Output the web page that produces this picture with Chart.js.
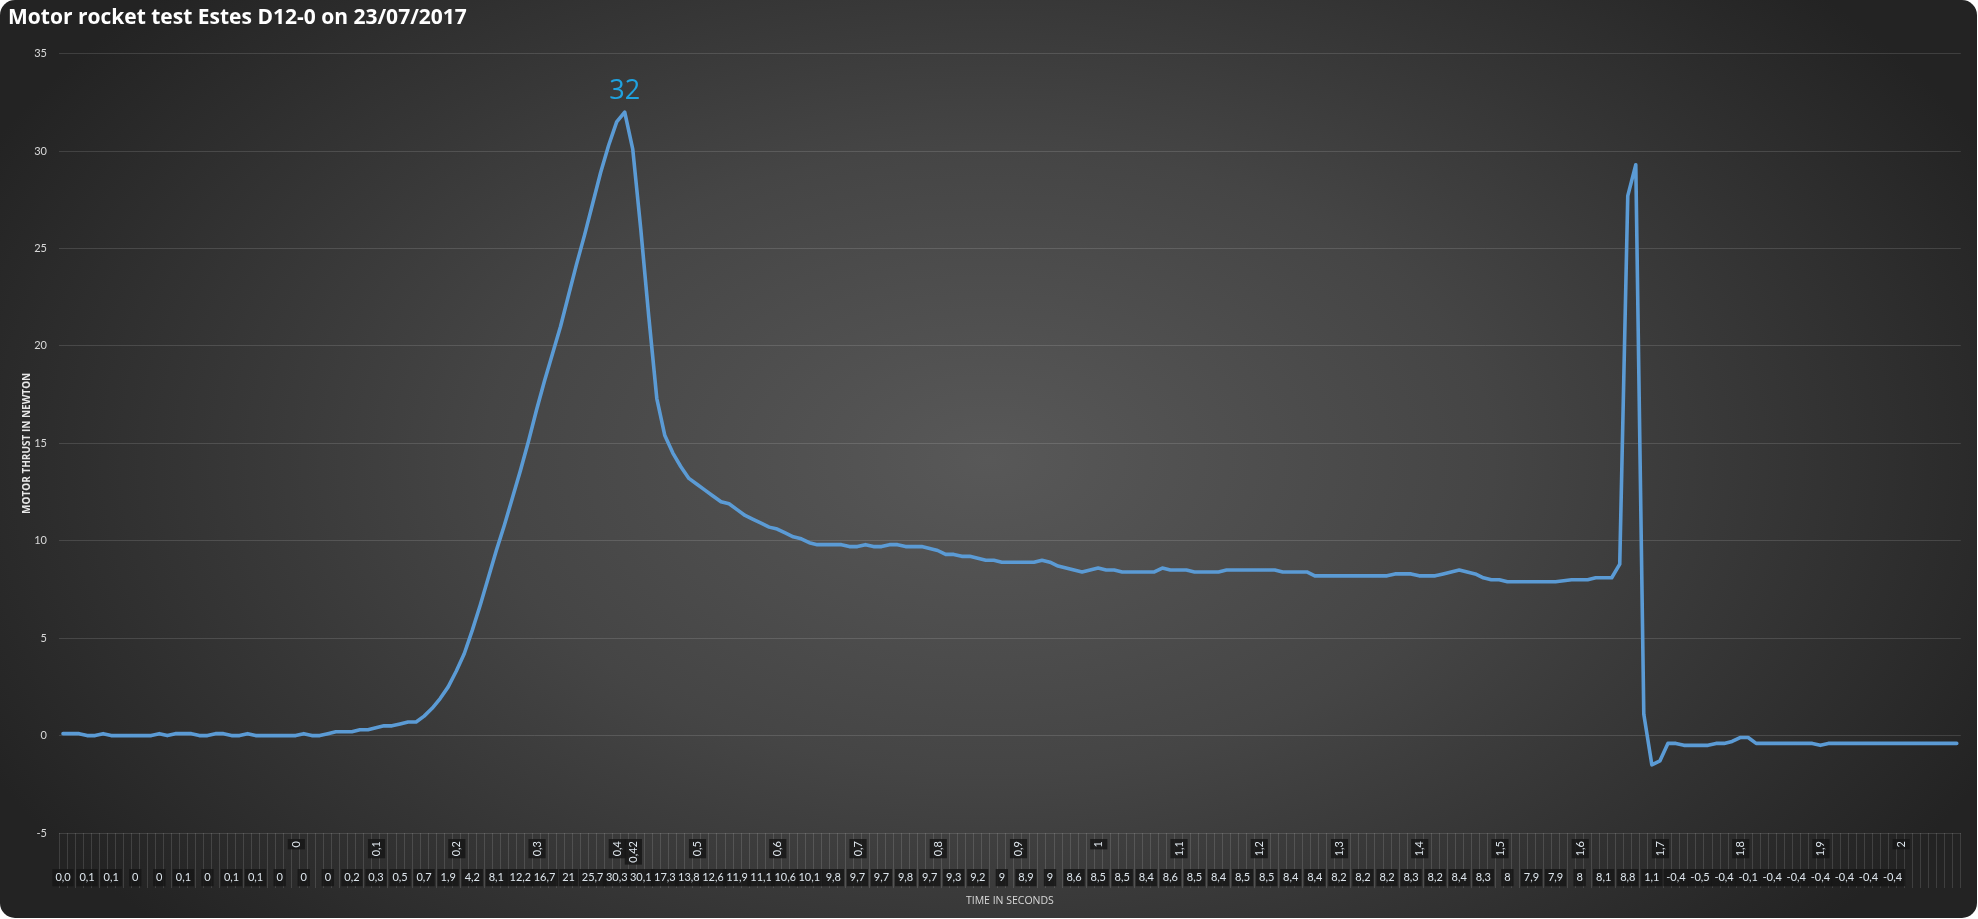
<!DOCTYPE html>
<html>
<head>
<meta charset="utf-8">
<style>
  html, body { margin: 0; padding: 0; background: #ffffff; }
  #wrap { width: 1978px; height: 919px; }
</style>
<script src="https://cdn.jsdelivr.net/npm/chart.js@4.4.1/dist/chart.umd.min.js"></script>
</head>
<body>
<div id="wrap"><canvas id="c" width="1978" height="919"></canvas></div>
<script>
// ---- DATA ----
const chartTitle = 'Motor rocket test Estes D12-0 on 23/07/2017';

// Thrust in newton, one sample every 0.01 s
const thrust = [
  0.1, 0.1, 0.1, 0, 0, 0.1, 0, 0, 0, 0,
  0, 0, 0.1, 0, 0.1, 0.1, 0.1, 0, 0, 0.1,
  0.1, 0, 0, 0.1, 0, 0, 0, 0, 0, 0,
  0.1, 0, 0, 0.1, 0.2, 0.2, 0.2, 0.3, 0.3, 0.4,
  0.5, 0.5, 0.6, 0.7, 0.7, 1.0, 1.4, 1.9, 2.5, 3.3,
  4.2, 5.4, 6.7, 8.1, 9.5, 10.8, 12.2, 13.6, 15.1, 16.7,
  18.2, 19.6, 21, 22.6, 24.2, 25.7, 27.3, 28.9, 30.3, 31.5,
  32, 30.1, 26, 21.5, 17.3, 15.4, 14.5, 13.8, 13.2, 12.9,
  12.6, 12.3, 12.0, 11.9, 11.6, 11.3, 11.1, 10.9, 10.7, 10.6,
  10.4, 10.2, 10.1, 9.9, 9.8, 9.8, 9.8, 9.8, 9.7, 9.7,
  9.8, 9.7, 9.7, 9.8, 9.8, 9.7, 9.7, 9.7, 9.6, 9.5,
  9.3, 9.3, 9.2, 9.2, 9.1, 9.0, 9.0, 8.9, 8.9, 8.9,
  8.9, 8.9, 9.0, 8.9, 8.7, 8.6, 8.5, 8.4, 8.5, 8.6,
  8.5, 8.5, 8.4, 8.4, 8.4, 8.4, 8.4, 8.6, 8.5, 8.5,
  8.5, 8.4, 8.4, 8.4, 8.4, 8.5, 8.5, 8.5, 8.5, 8.5,
  8.5, 8.5, 8.4, 8.4, 8.4, 8.4, 8.2, 8.2, 8.2, 8.2,
  8.2, 8.2, 8.2, 8.2, 8.2, 8.2, 8.3, 8.3, 8.3, 8.2,
  8.2, 8.2, 8.3, 8.4, 8.5, 8.4, 8.3, 8.1, 8.0, 8.0,
  7.9, 7.9, 7.9, 7.9, 7.9, 7.9, 7.9, 7.95, 8.0, 8.0,
  8.0, 8.1, 8.1, 8.1, 8.8, 27.7, 29.3, 1.1, -1.5, -1.3,
  -0.4, -0.4, -0.5, -0.5, -0.5, -0.5, -0.4, -0.4, -0.3, -0.1,
  -0.1, -0.4, -0.4, -0.4, -0.4, -0.4, -0.4, -0.4, -0.4, -0.5,
  -0.4, -0.4, -0.4, -0.4, -0.4, -0.4, -0.4, -0.4, -0.4, -0.4,
  -0.4, -0.4, -0.4, -0.4, -0.4, -0.4, -0.4
];

// Inner category row (thrust text), shown on every third category
const thrustLabels = [
  '0,0','0,1','0,1','0','0','0,1','0','0,1','0,1','0','0','0',
  '0,2','0,3','0,5','0,7','1,9','4,2','8,1','12,2','16,7','21','25,7','30,3',
  '30,1','17,3','13,8','12,6','11,9','11,1','10,6','10,1',
  '9,8','9,7','9,7','9,8','9,7','9,3','9,2','9',
  '8,9','9','8,6','8,5','8,5','8,4','8,6','8,5',
  '8,4','8,5','8,5','8,4','8,4','8,2','8,2','8,2',
  '8,3','8,2','8,4','8,3','8','7,9','7,9','8',
  '8,1','8,8','1,1','-0,4','-0,5','-0,4','-0,1',
  '-0,4','-0,4','-0,4','-0,4','-0,4','-0,4'
];
const labelEvery = 3;

// Outer category row (time in seconds) and the sample row each one sits on
const timeLabels = ['0','0,1','0,2','0,3','0,4','0,42','0,5','0,6','0,7','0,8','0,9','1',
                    '1,1','1,2','1,3','1,4','1,5','1,6','1,7','1,8','1,9','2'];
const timeRows   = [29, 39, 49, 59, 69, 71, 79, 89, 99, 109, 119, 129,
                    139, 149, 159, 169, 179, 189, 199, 209, 219, 229];

const yTicks = { min: -5, max: 35, step: 5 };

// ---- derived tables ----
const categories = thrust.map((v, i) => (i % labelEvery === 0 && thrustLabels[i / labelEvery] !== undefined) ? thrustLabels[i / labelEvery] : '');
const timeColumn = thrust.map(() => '');
timeRows.forEach((r, k) => { timeColumn[r] = timeLabels[k]; });

// ---- plugins ----
const bgPlugin = {
  id: 'bg',
  beforeDraw(chart) {
    const { ctx, width, height } = chart;
    ctx.save();
    ctx.fillStyle = '#ffffff';
    ctx.fillRect(0, 0, width, height);
    ctx.beginPath();
    ctx.roundRect(0, 0, width - 1, height - 1, 15);
    ctx.clip();
    ctx.translate(width / 2, height / 2);
    ctx.scale(1, 0.62);
    const g = ctx.createRadialGradient(0, 0, 0, 0, 0, 1120);
    g.addColorStop(0, '#585858');
    g.addColorStop(0.45, '#454545');
    g.addColorStop(1, '#232323');
    ctx.fillStyle = g;
    ctx.fillRect(-width, -height * 2, width * 2, height * 4);
    ctx.restore();
  }
};

const peakPlugin = {
  id: 'peak',
  afterDatasetsDraw(chart) {
    const meta = chart.getDatasetMeta(0);
    let mi = 0;
    thrust.forEach((v, i) => { if (v > thrust[mi]) mi = i; });
    const el = meta.data[mi];
    const ctx = chart.ctx;
    ctx.save();
    ctx.font = '27px "Open Sans"';
    ctx.fillStyle = '#1fa2e0';
    ctx.textAlign = 'center';
    ctx.textBaseline = 'middle';
    ctx.fillText(String(thrust[mi]), el.x, el.y - 21);
    ctx.restore();
  }
};

const gridCol = 'rgba(255,255,255,0.13)';
const lblCol = '#dde5ec';
const backCol = 'rgba(22,22,22,0.85)';

new Chart(document.getElementById('c'), {
  type: 'line',
  data: {
    labels: categories,
    datasets: [{
      data: thrust,
      xAxisID: 'x',
      yAxisID: 'y',
      borderColor: '#5b9bd5',
      borderWidth: 3.6,
      pointRadius: 0,
      tension: 0,
      borderJoinStyle: 'round',
      borderCapStyle: 'round',
      fill: false
    }]
  },
  options: {
    responsive: false,
    animation: false,
    devicePixelRatio: 1,
    layout: { padding: { left: 8, right: 15, top: 0, bottom: 0 } },
    plugins: {
      legend: { display: false },
      tooltip: { enabled: false },
      title: {
        display: true,
        text: chartTitle,
        align: 'start',
        color: '#ffffff',
        font: { family: 'Open Sans', size: 21, weight: 'bold' },
        padding: { top: 5, bottom: 23.5 }
      }
    },
    scales: {
      x: {
        type: 'category',
        position: 'bottom',
        offset: true,
        grid: { offset: true, drawOnChartArea: false, drawTicks: true, tickLength: 55, color: gridCol, tickColor: gridCol, lineWidth: 1 },
        border: { display: false },
        ticks: {
          autoSkip: false, minRotation: 0, maxRotation: 0, padding: -17,
          color: lblCol, font: { family: 'Lato', size: 11 },
          showLabelBackdrop: true,
          backdropColor: (c) => (categories[c.index] ? backCol : 'rgba(0,0,0,0)'),
          backdropPadding: { x: 3, y: 2 }
        },
        title: { display: true, text: 'TIME IN SECONDS', color: '#d9d9d9', font: { family: 'Open Sans', size: 10.5 }, padding: { top: 0, bottom: 12 } },
        afterFit: (s) => { s.height = 86; }
      },
      xt: {
        type: 'category',
        axis: 'x',
        labels: timeColumn,
        position: { y: -5 },
        offset: true,
        grid: { display: false, drawTicks: false },
        border: { display: false },
        ticks: {
          autoSkip: false, minRotation: 90, maxRotation: 90, padding: 8, labelOffset: -6,
          color: lblCol, font: { family: 'Lato', size: 11 },
          showLabelBackdrop: true,
          backdropColor: (c) => (timeColumn[c.index] ? backCol : 'rgba(0,0,0,0)'),
          backdropPadding: { x: 2, y: 2 }
        }
      },
      y: {
        type: 'linear',
        position: 'left',
        min: yTicks.min,
        max: yTicks.max,
        grid: { color: gridCol, drawTicks: false },
        border: { display: false },
        ticks: { stepSize: yTicks.step, padding: 12, color: '#d9d9d9', font: { family: 'Lato', size: 11 } },
        title: { display: true, text: 'MOTOR THRUST IN NEWTON', color: '#e8e8e8', font: { family: 'Open Sans', size: 10, weight: 'bold' }, padding: { top: 13, bottom: 0 } },
        afterFit: (s) => { s.width = 51; }
      }
    }
  },
  plugins: [bgPlugin, peakPlugin]
});
</script>
</body>
</html>
